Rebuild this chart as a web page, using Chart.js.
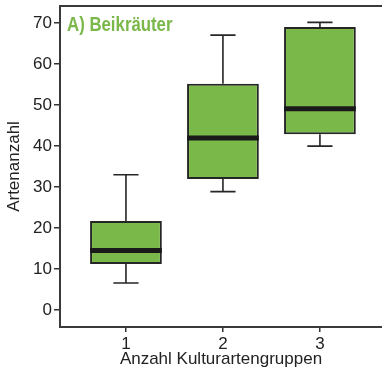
<!DOCTYPE html>
<html>
<head>
<meta charset="utf-8">
<script src="https://cdn.jsdelivr.net/npm/chart.js@4.4.1/dist/chart.umd.min.js"></script>
<style>
    body { margin: 0; background: #fff; }
    #wrap { width: 382px; height: 373px; }
</style>
</head>
<body>
<div id="wrap"><canvas id="boxChart"></canvas></div>
<script>
// Anzahl Kulturartengruppen vs. Artenanzahl (Beikräuter)
const groups = [1, 2, 3];
const whiskerLow = [6.6, 28.9, 40.0];
const q1 = [11.2, 32.0, 42.9];
const median = [14.5, 42.0, 49.1];
const q3 = [21.7, 55.2, 69.1];
const whiskerHigh = [33.0, 67.1, 70.2];
const yTicks = [0, 10, 20, 30, 40, 50, 60, 70];

const green = '#7ab84a';
const dark = '#262626';
const axisFont = { family: 'Liberation Sans, Arial, sans-serif', size: 17 };

// whiskers behind the boxes, medians + panel title on top
const boxPlotExtras = {
    id: 'boxPlotExtras',
    beforeDatasetsDraw(chart) {
        const { ctx, scales: { x, y } } = chart;
        ctx.save();
        ctx.strokeStyle = dark;
        ctx.lineWidth = 1.6;
        groups.forEach((g, i) => {
            const cx = x.getPixelForValue(g);
            const capL = x.getPixelForValue(g - 0.13);
            const capR = x.getPixelForValue(g + 0.13);
            const yHi = y.getPixelForValue(whiskerHigh[i]);
            const yLo = y.getPixelForValue(whiskerLow[i]);
            ctx.beginPath();
            ctx.moveTo(cx, y.getPixelForValue(q3[i]));
            ctx.lineTo(cx, yHi);
            ctx.moveTo(capL, yHi);
            ctx.lineTo(capR, yHi);
            ctx.moveTo(cx, y.getPixelForValue(q1[i]));
            ctx.lineTo(cx, yLo);
            ctx.moveTo(capL, yLo);
            ctx.lineTo(capR, yLo);
            ctx.stroke();
        });
        ctx.restore();
    },
    afterDatasetsDraw(chart) {
        const { ctx, scales: { y } } = chart;
        const meta = chart.getDatasetMeta(0);
        ctx.save();
        ctx.strokeStyle = '#1a1a1a';
        ctx.lineWidth = 5;
        meta.data.forEach((bar, i) => {
            const my = y.getPixelForValue(median[i]);
            ctx.beginPath();
            ctx.moveTo(bar.x - bar.width / 2, my);
            ctx.lineTo(bar.x + bar.width / 2, my);
            ctx.stroke();
        });
        ctx.restore();
    },
    afterDraw(chart) {
        const { ctx, chartArea } = chart;
        ctx.save();
        // top frame line (the panel is open on the right)
        ctx.strokeStyle = '#3a3a3a';
        ctx.lineWidth = 2;
        ctx.beginPath();
        ctx.moveTo(chartArea.left - 1, chartArea.top);
        ctx.lineTo(chartArea.right, chartArea.top);
        ctx.stroke();

        ctx.fillStyle = green;
        ctx.font = 'bold 20px "Liberation Sans", Arial, sans-serif';
        ctx.textBaseline = 'alphabetic';
        // narrow the heading like a condensed face
        ctx.translate(chartArea.left + 7, chartArea.top + 25);
        ctx.scale(0.84, 1);
        ctx.fillText('A) Beikräuter', 0, 0);
        ctx.restore();
    }
};

new Chart(document.getElementById('boxChart'), {
    type: 'bar',
    data: {
        datasets: [{
            data: groups.map((g, i) => ({ x: g, y: [q1[i], q3[i]] })),
            backgroundColor: green,
            borderColor: dark,
            borderWidth: 2,
            borderSkipped: false,
            categoryPercentage: 1,
            barPercentage: 0.74
        }]
    },
    options: {
        responsive: true,
        maintainAspectRatio: false,
        animation: false,
        layout: { padding: { top: 6, right: 0, bottom: 0, left: 0 } },
        plugins: {
            legend: { display: false },
            tooltip: { enabled: false }
        },
        scales: {
            x: {
                type: 'linear',
                offset: false,
                min: 0.32,
                max: 3.64,
                afterBuildTicks: scale => { scale.ticks = groups.map(v => ({ value: v })); },
                ticks: { font: axisFont, color: '#222', padding: 2 },
                grid: { display: true, offset: false, drawOnChartArea: false, drawTicks: true, tickLength: 5, color: '#333', lineWidth: 1.5 },
                border: { display: true, color: '#3a3a3a', width: 2 },
                title: { display: true, text: 'Anzahl Kulturartengruppen', font: axisFont, color: '#222', padding: { top: 0, bottom: 3 } },
                afterFit: scale => {
                    scale.height = 46;
                    scale.paddingLeft = 0;
                    scale.paddingRight = 0;
                }
            },
            y: {
                min: -4.15,
                max: 74.2,
                afterBuildTicks: scale => { scale.ticks = yTicks.map(v => ({ value: v })); },
                ticks: { font: axisFont, color: '#222', padding: 2 },
                grid: { display: true, drawOnChartArea: false, drawTicks: true, tickLength: 6, color: '#333', lineWidth: 1.5 },
                border: { display: true, color: '#3a3a3a', width: 2 },
                title: { display: true, text: 'Artenanzahl', font: axisFont, color: '#222', padding: { top: 4, bottom: 0 } },
                afterFit: scale => {
                    scale.width = 60;
                    scale.paddingTop = 0;
                    scale.paddingBottom = 0;
                }
            }
        }
    },
    plugins: [boxPlotExtras]
});
</script>
</body>
</html>
